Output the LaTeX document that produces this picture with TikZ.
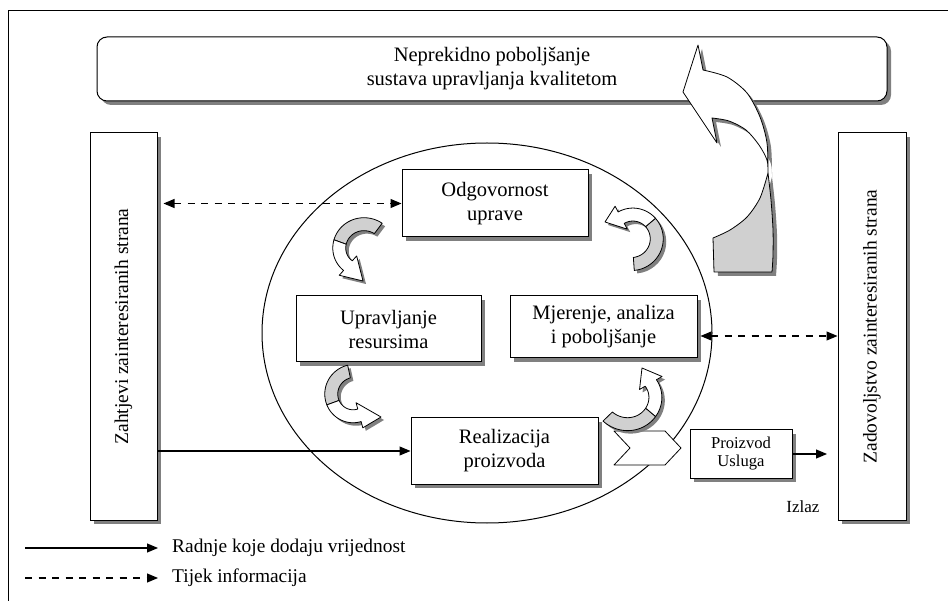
\documentclass[tikz,border=0pt]{standalone}
\usepackage{fontspec}
\setmainfont{Liberation Serif}
\usetikzlibrary{arrows.meta,shapes.geometric,shadows,calc}
\definecolor{shadowc}{RGB}{128,128,128}
\definecolor{ribgray}{RGB}{208,208,208}
\tikzset{
  box/.style={draw=black, line width=1pt, fill=white, align=center, inner sep=0pt,
    font=\fontsize{20.5}{24}\selectfont,
    drop shadow={shadow xshift=4pt, shadow yshift=-4pt, fill=shadowc, opacity=1}},
  smallbox/.style={box, font=\fontsize{16.6}{18}\selectfont},
  sidebox/.style={box, font=\fontsize{19.5}{22}\selectfont},
  ribbon/.style={draw=black, line width=0.8pt, line join=round},
  solidarrow/.style={line width=1.1pt, -{Triangle[length=11pt,width=9pt]}},
  infoarrow/.style={line width=1.1pt, dash pattern=on 7pt off 6.5pt, {Triangle[length=11pt,width=9pt]}-{Triangle[length=11pt,width=9pt]}},
  legendarrow/.style={line width=1.1pt, dash pattern=on 7pt off 6.5pt, -{Triangle[length=11pt,width=9pt]}},
  legendtext/.style={anchor=west, inner sep=0pt, font=\fontsize{19.4}{22}\selectfont},
}
% spiral radius at angle
\newcommand\spR[1]{(\rA+(\rB-\rA)*((#1)-(\aA))/((\aB)-(\aA)))}
% #1 cx, #2 cy, #3 r at tail, #4 r at head, #5 half width, #6 tail angle, #7 gray/white split, #8 head base angle, #9 tip (x,y)
\newcommand\ribarrow[9]{%
  \def\cxx{#1}\def\cyy{#2}\def\rA{#3}\def\rB{#4}\def\hw{#5}\def\aA{#6}\def\aB{#8}%
  \fill[shadowc, shift={(3,3)}] plot[domain=#6:#8,samples=25] ({\cxx+(\spR{\x}+\hw)*cos(\x)},{\cyy+(\spR{\x}+\hw)*sin(\x)})
    -- ({\cxx+(\rB+2*\hw)*cos(#8)},{\cyy+(\rB+2*\hw)*sin(#8)})
    -- (#9)
    -- ({\cxx+(\rB-2*\hw)*cos(#8)},{\cyy+(\rB-2*\hw)*sin(#8)})
    -- plot[domain=#8:#6,samples=25] ({\cxx+(\spR{\x}-\hw)*cos(\x)},{\cyy+(\spR{\x}-\hw)*sin(\x)}) -- cycle;
  \filldraw[ribbon, fill=ribgray] plot[domain=#6:#7,samples=25] ({\cxx+(\spR{\x}+\hw)*cos(\x)},{\cyy+(\spR{\x}+\hw)*sin(\x)})
    -- plot[domain=#7:#6,samples=25] ({\cxx+(\spR{\x}-\hw)*cos(\x)},{\cyy+(\spR{\x}-\hw)*sin(\x)}) -- cycle;
  \filldraw[ribbon, fill=white] plot[domain=#7:#8,samples=25] ({\cxx+(\spR{\x}+\hw)*cos(\x)},{\cyy+(\spR{\x}+\hw)*sin(\x)})
    -- ({\cxx+(\rB+2*\hw)*cos(#8)},{\cyy+(\rB+2*\hw)*sin(#8)})
    -- (#9)
    -- ({\cxx+(\rB-2*\hw)*cos(#8)},{\cyy+(\rB-2*\hw)*sin(#8)})
    -- plot[domain=#8:#7,samples=25] ({\cxx+(\spR{\x}-\hw)*cos(\x)},{\cyy+(\spR{\x}-\hw)*sin(\x)}) -- cycle;
}
\begin{document}
\begin{tikzpicture}[x=1pt, y=-1pt]
\useasboundingbox (0,0) rectangle (948,601);
% outer frame
\draw[line width=1pt] (948,11) -- (8,11) -- (8,601);

% top box
\node[box, rounded corners=10pt, minimum width=790pt, minimum height=64pt] (TB) at (492,69)
  {Neprekidno poboljšanje\\sustava upravljanja kvalitetom};

% side boxes
\node[sidebox, minimum width=67pt, minimum height=387pt] (L) at (123.5,326.5)
  {\rotatebox{90}{Zahtjevi zainteresiranih strana}};
\node[sidebox, minimum width=68pt, minimum height=387pt] (R) at (872,326.5)
  {\rotatebox{90}{Zadovoljstvo zainteresiranih strana}};

% big ellipse
\node[ellipse, draw=black, line width=1pt, minimum width=450pt, minimum height=380pt, inner sep=0pt] (E) at (487,333) {};

% big curved arrow: shadow
\fill[shadowc, shift={(4,4)}] plot[smooth] coordinates {(768,173) (771,200) (773,230) (773,255) (772,272)}
  -- (714,272) -- (713,238) -- plot[smooth] coordinates {(713,238) (730,230) (747,217) (760,198) (768,173)} -- cycle;
\fill[shadowc, shift={(4,4)}] (698,45) -- plot[smooth] coordinates {(703,70) (727,77) (747,93) (760,117) (767,143) (768,173)}
  -- plot[smooth] coordinates {(768,173) (767,160) (759,145) (746,130) (729,121) (712,118)}
  -- (717,143) -- (683,92) -- cycle;
% big curved arrow: back (grey) and front (white)
\filldraw[ribbon, fill=ribgray] plot[smooth] coordinates {(768,173) (771,200) (773,230) (773,255) (772,272)}
  -- (714,272) -- (713,238) -- plot[smooth] coordinates {(713,238) (730,230) (747,217) (760,198) (768,173)} -- cycle;
\filldraw[ribbon, fill=white] (698,45) -- plot[smooth] coordinates {(703,70) (727,77) (747,93) (760,117) (767,143) (768,173)}
  -- plot[smooth] coordinates {(768,173) (767,160) (759,145) (746,130) (729,121) (712,118)}
  -- (717,143) -- (683,92) -- cycle;

% inner boxes
\node[box, minimum width=186pt, minimum height=67pt] (O) at (495,203.5) {Odgovornost\\uprave};
\node[box, minimum width=185pt, minimum height=66pt] (U) at (388.5,329) {Upravljanje\\resursima};
\node[box, minimum width=187pt, minimum height=62pt] (M) at (603.5,327) {Mjerenje, analiza\\i poboljšanje};
\node[box, minimum width=187pt, minimum height=66pt] (Rz) at (504.5,451) {Realizacija\\proizvoda};
\node[smallbox, minimum width=102pt, minimum height=48pt] (P) at (741,454) {Proizvod\\Usluga};

% chevron
\filldraw[ribbon, fill=white] (614,431) -- (665,431) -- (681,448) -- (665,465) -- (614,465) -- (630,448) -- cycle;

% small curved arrows
\ribarrow{362}{250}{27}{21}{6.5}{-53}{-160}{-228}{363,281}
\ribarrow{632}{238}{26}{23}{6.5}{86}{-40}{-118}{605,222}
\ribarrow{354}{395}{24}{21}{6.5}{258}{160}{75}{381,417}
\ribarrow{630}{395}{31}{24}{6.5}{136}{40}{-30}{642,368}

% connectors
\draw[infoarrow] ([xshift=6pt]L.east |- O.west) -- (O.west);
\coordinate (mr) at ([yshift=-9pt]M.east);
\draw[infoarrow] ([xshift=3pt]mr) -- (R.west |- mr);
\draw[solidarrow] (L.east |- Rz.west) -- (Rz.west);
\coordinate (out) at (827,454);
\draw[solidarrow] (P.east) -- (out);
\node[inner sep=0pt, font=\fontsize{17}{20}\selectfont] (izlaz) at (803,507) {Izlaz};

% legend
\coordinate (l1s) at (25,548);
\coordinate (l1e) at (158,548);
\coordinate (l2s) at (25,578);
\coordinate (l2e) at (158,578);
\draw[solidarrow] (l1s) -- (l1e);
\draw[legendarrow] (l2s) -- (l2e);
\node[legendtext] (t1) at (172,548) {Radnje koje dodaju vrijednost};
\node[legendtext] (t2) at (172,578) {Tijek informacija};
\end{tikzpicture}
\end{document}
